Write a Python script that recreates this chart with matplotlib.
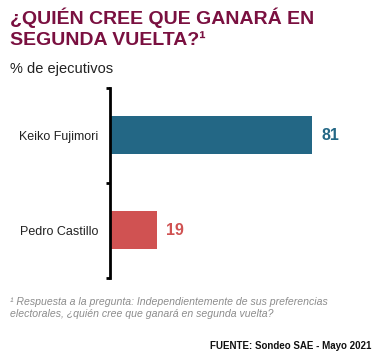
import matplotlib.pyplot as plt

plt.rcParams['font.family'] = ['Liberation Sans', 'DejaVu Sans']

# data
candidates = ["Pedro Castillo", "Keiko Fujimori"]
values = [19, 81]
bar_colors = ["#d05252", "#236785"]

fig = plt.figure(figsize=(3.8, 3.6), dpi=100)

# title block
fig.text(0.026, 0.978, "¿QUIÉN CREE QUE GANARÁ EN\nSEGUNDA VUELTA?¹", ha="left", va="top",
         fontsize=14, fontweight="bold", color="#7a1040", linespacing=1.25)
fig.text(0.026, 0.828, "% de ejecutivos", ha="left", va="top", fontsize=10.5, color="#222222")

# bar chart
ax = fig.add_axes([0.289, 0.228, 0.658, 0.528])
pos = list(range(len(candidates)))
ax.barh(pos, values, height=0.4, color=bar_colors)
for p, v, c in zip(pos, values, bar_colors):
    ax.text(v + 3.5, p, str(v), va="center", ha="left", fontsize=11.5, fontweight="bold", color=c)

ax.set_xlim(0, 100)
ax.set_ylim(-0.5, 1.5)
ax.set_xticks([])
ax.set_yticks([-0.5, 0.5, 1.5])
ax.set_yticklabels([])
ax.set_yticks(pos, minor=True)
ax.set_yticklabels(candidates, minor=True, fontsize=9, color="#222222")
ax.tick_params(axis="y", which="major", length=3, width=2, direction="out")
ax.tick_params(axis="y", which="minor", length=0, pad=8)
for s in ["top", "right", "bottom"]:
    ax.spines[s].set_visible(False)
ax.spines["left"].set_linewidth(2)

# footnotes
fig.text(0.026, 0.175, "¹ Respuesta a la pregunta: Independientemente de sus preferencias\nelectorales, ¿quién cree que ganará en segunda vuelta?",
         ha="left", va="top", fontsize=7.6, style="italic", color="#8c8c8c", linespacing=1.2)
fig.text(0.978, 0.04, "FUENTE: Sondeo SAE - Mayo 2021", ha="right", va="center",
         fontsize=7, fontweight="bold", color="#111111")

fig.savefig("out.png", dpi=100)
